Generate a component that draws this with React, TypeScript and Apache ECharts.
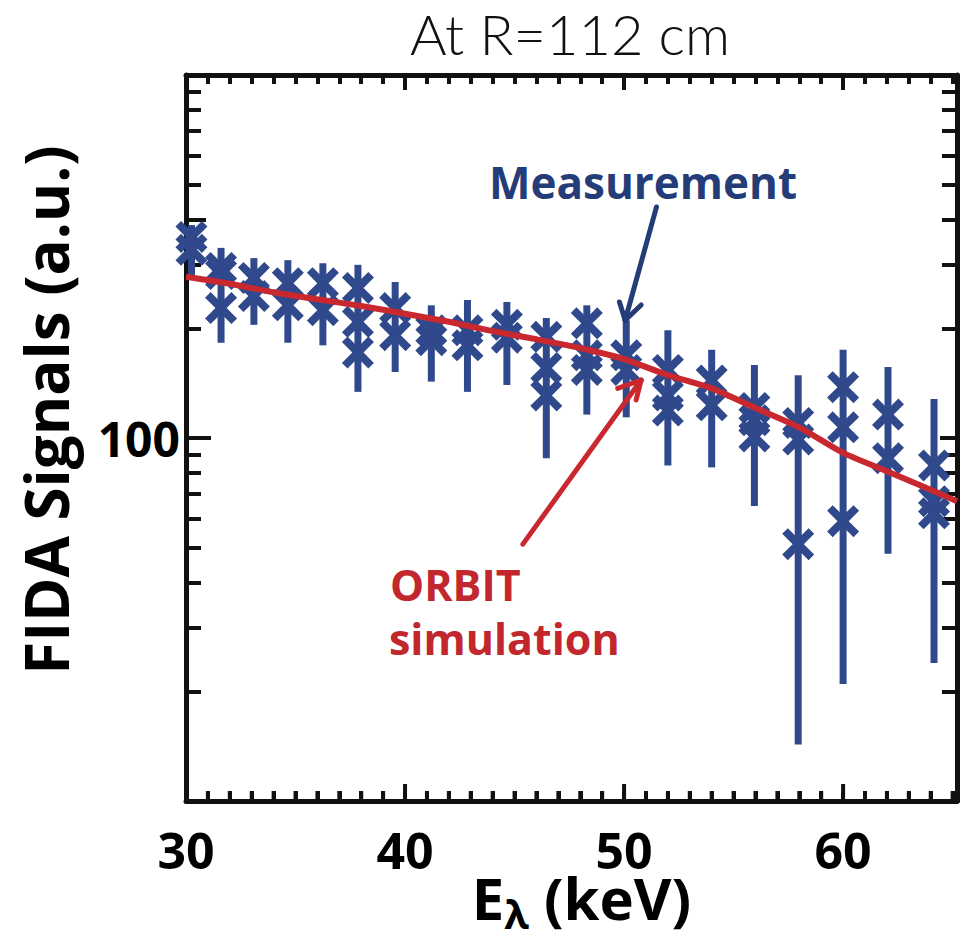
import React, { useEffect, useRef } from 'react';
import * as echarts from 'echarts';

// ---------- data ----------
const titleText = 'At R=112 cm';
const xLabelValues = [30, 40, 50, 60];
const yLabelValues = [100];
const yExtraMajorTick = [400];
const xMinorTickValues = [31, 32, 33, 34, 35, 36, 37, 38, 39, 41, 42, 43, 44, 45, 46, 47, 48, 49, 51, 52, 53, 54, 55, 56, 57, 58, 59, 61, 62, 63, 64, 65];
const xMajorTickValues = [30, 40, 50, 60];

const measEnergy = [30.25, 31.6, 33.1, 34.65, 36.25, 37.85, 39.55, 41.2, 42.85, 44.65, 46.45, 48.3, 50.1, 52.0, 54.0, 55.95, 57.95, 60.0, 62.05, 64.15];
const measShot1 = [358, 294, 276, 267, 267, 259, 228, 198, 198, 205, 190, 207, 169, 154, 144, 121, 110, 138, 116, 84];
const measShot2 = [330, 283, 246, 232, 225, 209, 192, 186, 180, 189, 156, 169, 154, 131, 123, 112, 99, 107, 88, 67];
const measShot3 = [null, 228, null, null, null, 172, null, null, null, null, 131, 154, null, 119, null, 101, 51, 59, null, 62];
const measErrLow = [281, 183, 205, 183, 180, 134, 152, 143, 134, 140, 88, 116, 114, 84, 83, 65, 14.3, 21, 48, 24];
const measErrHigh = [386, 334, 313, 309, 303, 300, 269, 232, 240, 237, 214, 232, 211, 198, 175, 159, 149, 175, 157, 128];

const simEnergy = [30, 32, 34, 36, 38, 40, 42, 44, 46, 48, 50, 52, 54, 56, 58, 60, 62, 64, 65.2];
const simSignal = [278, 266, 252, 241, 231, 220, 209, 197, 187, 177, 165, 149, 137, 121, 107, 91, 81, 72, 67];

// annotation arrows (data coordinates): shaft + two head arms
const measArrow = [[51.48, 433], [50.05, 211]];
const measArrowHead = [[49.79, 237], [50.05, 211], [50.78, 232.5]];
const simArrow = [[45.38, 51], [50.78, 144.4]];
const simArrowHead = [[49.71, 137], [50.78, 144.4], [50.55, 127.3]];

// ---------- styles ----------
const BLUE = '#30498c';
const NAVY = '#243d78';
const RED = '#c9282e';
const RED_TEXT = '#c1272d';
const AXIS = '#111111';
const FONT = '"Open Sans", "Noto Sans", sans-serif';
const X_SYMBOL = 'path://M0,3.5L3.5,0L10,6.5L16.5,0L20,3.5L13.5,10L20,16.5L16.5,20L10,13.5L3.5,20L0,16.5L6.5,10Z';

export default function App() {
  const ref = useRef<HTMLDivElement>(null);

  useEffect(() => {
    document.body.style.margin = '0';
    const chart = echarts.init(ref.current!, null, { renderer: 'svg' });

    const xMin = 30;
    const xMax = 65.2;
    const yMin = 10;
    const yMax = 1000;

    const points: number[][] = [];
    measEnergy.forEach((e, i) => {
      [measShot1[i], measShot2[i], measShot3[i]].forEach((v) => {
        if (v != null) points.push([e, v as number]);
      });
    });

    const mkTick = () => ({ color: AXIS, width: 4 });
    const mkLine = () => ({ color: AXIS, width: 5 });

    const arrowPair = (a: number[], b: number[], color: string, width: number) => [
      { coord: a, lineStyle: { color, width, type: 'solid', cap: 'round' } },
      { coord: b },
    ];

    const graphicTexts: any[] = [
      {
        type: 'text',
        x: 643,
        y: 182,
        style: { text: 'Measurement', fill: NAVY, font: `bold 44px ${FONT}`, textAlign: 'center', textVerticalAlign: 'middle' },
        z: 10,
      },
      {
        type: 'text',
        x: 390,
        y: 584,
        style: { text: 'ORBIT', fill: RED_TEXT, font: `bold 43px ${FONT}`, textAlign: 'left', textVerticalAlign: 'middle' },
        z: 10,
      },
      {
        type: 'text',
        x: 389,
        y: 638,
        style: { text: 'simulation', fill: RED_TEXT, font: `bold 43px ${FONT}`, textAlign: 'left', textVerticalAlign: 'middle' },
        z: 10,
      },
    ];

    const option: any = {
      animation: false,
      backgroundColor: '#ffffff',
      title: {
        text: titleText,
        left: 565,
        top: 0,
        textAlign: 'center',
        textStyle: { fontFamily: 'Lato, "Open Sans", sans-serif', fontWeight: 300, fontSize: 56, color: AXIS },
      },
      grid: { left: 186, top: 75, width: 771, height: 726, containLabel: false, outerBoundsMode: 'none' },
      xAxis: [
        {
          type: 'value',
          min: xMin,
          max: xMax,
          position: 'bottom',
          interval: 1,
          splitLine: { show: false },
          axisLine: { show: true, onZero: false, lineStyle: mkLine() },
          axisTick: { show: true, inside: true, length: 10, lineStyle: mkTick() },
          axisLabel: {
            show: true,
            margin: 24,
            fontSize: 50,
            fontWeight: 'bold',
            color: '#000',
            fontFamily: FONT,
            formatter: (v: number) => (xLabelValues.some((t) => Math.abs(t - v) < 1e-6) ? String(v) : ''),
          },
          name: '{e|E}{l|λ}{e| (keV)}',
          nameLocation: 'middle',
          nameGap: 67,
          nameMoveOverlap: false,
          nameTextStyle: {
            padding: [0, 0, 0, 20],
            rich: {
              e: { fontSize: 58, fontWeight: 'bold', color: '#000', fontFamily: FONT, padding: [0, 0, 7, 0], verticalAlign: 'bottom' },
              l: { fontSize: 40, fontWeight: 'bold', color: '#000', fontFamily: FONT, verticalAlign: 'bottom' },
            },
          },
        },
        {
          type: 'value',
          min: xMin,
          max: xMax,
          position: 'top',
          interval: 1,
          splitLine: { show: false },
          axisLine: { show: true, onZero: false, lineStyle: mkLine() },
          axisTick: { show: true, inside: true, length: 9, lineStyle: mkTick() },
          axisLabel: { show: false },
        },
        {
          type: 'value',
          min: xMin,
          max: xMax,
          position: 'top',
          interval: 10,
          splitLine: { show: false },
          axisLine: { show: false, onZero: false },
          axisTick: { show: true, inside: true, length: 15, lineStyle: mkTick() },
          axisLabel: { show: false },
        },
      ],
      yAxis: [
        {
          type: 'log',
          logBase: 10,
          min: yMin,
          max: yMax,
          position: 'left',
          splitLine: { show: false },
          axisLine: { show: true, onZero: false, lineStyle: mkLine() },
          axisTick: { show: true, inside: true, length: 25, lineStyle: mkTick() },
          minorTick: { show: true, splitNumber: 9, length: 15, lineStyle: mkTick() },
          axisLabel: {
            show: true,
            margin: 6,
            fontSize: 48,
            fontWeight: 'bold',
            color: '#000',
            fontFamily: FONT,
            formatter: (v: number) => (yLabelValues.some((t) => Math.abs(t - v) < 1e-6) ? String(v) : ''),
          },
          name: 'FIDA Signals (a.u.)',
          nameLocation: 'middle',
          nameGap: 110,
          nameMoveOverlap: false,
          nameTextStyle: { fontSize: 60, fontWeight: 'bold', color: '#000', fontFamily: FONT, padding: [0, 0, 0, 56] },
        },
        {
          type: 'log',
          logBase: 10,
          min: yMin,
          max: yMax,
          position: 'right',
          splitLine: { show: false },
          axisLine: { show: true, onZero: false, lineStyle: mkLine() },
          axisTick: { show: true, inside: true, length: 17, lineStyle: mkTick() },
          minorTick: { show: true, splitNumber: 9, length: 15, lineStyle: mkTick() },
          axisLabel: { show: false },
        },
        {
          type: 'log',
          logBase: 10,
          min: yMin,
          max: yMax,
          position: 'left',
          splitLine: { show: false },
          axisLine: { show: false, onZero: false },
          axisTick: { show: true, inside: true, length: 20, lineStyle: mkTick(), customValues: yExtraMajorTick },
          axisLabel: { show: false, customValues: yExtraMajorTick },
        },
      ],
      series: [
        {
          type: 'custom',
          name: 'error bars',
          xAxisIndex: 0,
          yAxisIndex: 0,
          z: 2,
          data: measEnergy.map((e, i) => [e, measErrLow[i], measErrHigh[i]]),
          encode: { x: 0, y: [1, 2] },
          renderItem: (params: any, api: any) => {
            const lo = api.coord([api.value(0), api.value(1)]);
            const hi = api.coord([api.value(0), api.value(2)]);
            return {
              type: 'line',
              shape: { x1: lo[0], y1: lo[1], x2: hi[0], y2: hi[1] },
              style: { stroke: BLUE, lineWidth: 7 },
            };
          },
        },
        {
          type: 'scatter',
          name: 'Measurement',
          xAxisIndex: 0,
          yAxisIndex: 0,
          z: 3,
          symbol: X_SYMBOL,
          symbolSize: 32,
          itemStyle: { color: BLUE, opacity: 1 },
          data: points,
        },
        {
          type: 'line',
          name: 'ORBIT simulation',
          xAxisIndex: 0,
          yAxisIndex: 0,
          z: 4,
          symbol: 'none',
          smooth: 0.2,
          lineStyle: { color: RED, width: 6 },
          data: simEnergy.map((e, i) => [e, simSignal[i]]),
          markLine: {
            silent: true,
            symbol: ['none', 'none'],
            label: { show: false },
            emphasis: { disabled: true },
            data: [
              arrowPair(measArrow[0], measArrow[1], NAVY, 5),
              arrowPair(measArrowHead[0], measArrowHead[1], NAVY, 5),
              arrowPair(measArrowHead[2], measArrowHead[1], NAVY, 5),
              arrowPair(simArrow[0], simArrow[1], RED, 5),
              arrowPair(simArrowHead[0], simArrowHead[1], RED, 5),
              arrowPair(simArrowHead[2], simArrowHead[1], RED, 5),
            ],
          },
        },
      ],
      graphic: graphicTexts,
    };

    chart.setOption(option);

    // bottom-frame tick marks, placed through the chart's own x / y scales
    const yBottom = chart.convertToPixel({ yAxisIndex: 0 }, yMin) as number;
    const tickLines: any[] = [];
    const addTick = (v: number, len: number) => {
      const px = chart.convertToPixel({ xAxisIndex: 0 }, v) as number;
      if (typeof px !== 'number' || !isFinite(px) || !isFinite(yBottom)) return;
      tickLines.push({
        type: 'line',
        silent: true,
        z: 200,
        shape: { x1: px, y1: yBottom, x2: px, y2: yBottom - len },
        style: { stroke: AXIS, lineWidth: 4 },
      });
    };
    xMinorTickValues.forEach((v) => addTick(v, 10));
    xMajorTickValues.forEach((v) => addTick(v, 17));
    chart.setOption({ graphic: [...graphicTexts, ...tickLines] });

    return () => chart.dispose();
  }, []);

  return <div ref={ref} style={{ width: 969, height: 939, background: '#fff' }} />;
}
